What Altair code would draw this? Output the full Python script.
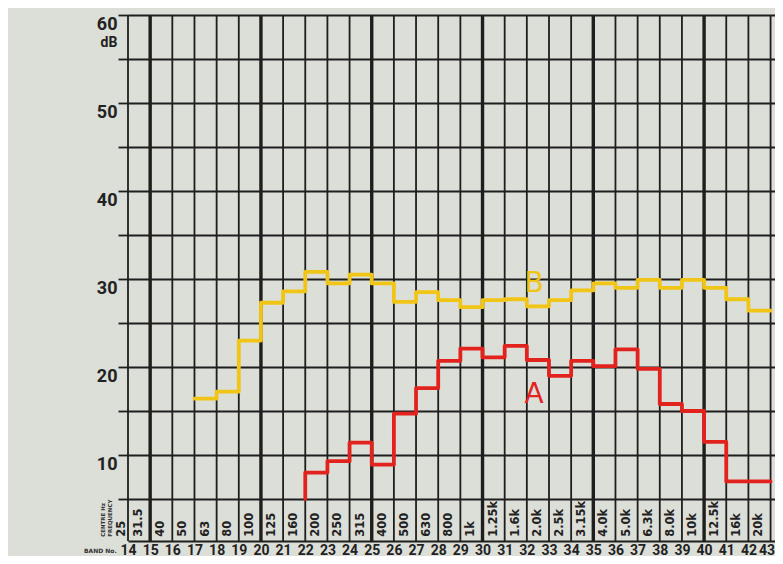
import altair as alt
import pandas as pd

# ---- data ----
bands_A = list(range(23, 44))
level_A = [8.0, 9.3, 11.4, 8.9, 14.7, 17.6, 20.7, 22.1, 21.1, 22.4, 20.8,
           19.0, 20.7, 20.1, 22.0, 19.8, 15.8, 15.0, 11.5, 7.0, 7.0]

bands_B = list(range(18, 44))
level_B = [16.4, 17.2, 23.0, 27.3, 28.6, 30.8, 29.5, 30.5, 29.5, 27.4, 28.5,
           27.6, 26.8, 27.6, 27.7, 26.9, 27.6, 28.7, 29.5, 29.0, 29.9, 29.0,
           29.9, 29.0, 27.7, 26.4]

band_numbers = list(range(14, 44))
centre_freqs = ["25", "31.5", "40", "50", "63", "80", "100", "125", "160", "200",
                "250", "315", "400", "500", "630", "800", "1k", "1.25k", "1.6k",
                "2.0k", "2.5k", "3.15k", "4.0k", "5.0k", "6.3k", "8.0k", "10k",
                "12.5k", "16k", "20k"]
db_ticks = list(range(5, 61, 5))

FLOOR = 5
GRID = "#1e1e1e"
RED = "#e2231d"
YELLOW = "#f1c515"
BG = "#dcded8"
LABEL_FONT = "Roboto"


def step_rows(name, bands, levels, floor=None):
    rows = []
    if floor is not None:
        rows.append({"series": name, "x": bands[0] - 1, "y": floor})
    for b, v in zip(bands, levels):
        rows.append({"series": name, "x": b - 1, "y": v})
    rows.append({"series": name, "x": bands[-1], "y": levels[-1]})
    for i, r in enumerate(rows):
        r["o"] = i
    return rows


lines_df = pd.DataFrame(step_rows("A", bands_A, level_A, FLOOR) +
                        step_rows("B", bands_B, level_B))
grid_df = pd.DataFrame({"band": band_numbers})
freq_df = pd.DataFrame({"band": band_numbers, "label": centre_freqs})

xs = alt.Scale(domain=[14, 43.2], nice=False, zero=False)
ys = alt.Scale(domain=[0.23, 60], nice=False, zero=False)

x_axis = alt.Axis(values=band_numbers, title=None, grid=False, ticks=False,
                  domain=True, domainColor=GRID, domainWidth=1.8,
                  labelFont=LABEL_FONT, labelFontSize=14, labelFontWeight="bold",
                  labelColor="#222222", labelPadding=2, labelOverlap=False,
                  labelFlush=False, format="d",
                  labelOffset={"condition": {"test": "datum.value === 43", "value": -4},
                               "value": 0})
y_axis = alt.Axis(values=db_ticks, title=None, grid=True, gridColor=GRID,
                  gridWidth=1.8, gridOpacity=1, ticks=True, tickSize=10,
                  tickColor=GRID, tickWidth=1.8, domain=False,
                  labelExpr="datum.value % 10 === 0 ? datum.label : ''",
                  labelBaseline="top", labelAlign="right", labelPadding=1,
                  labelFont=LABEL_FONT, labelFontSize=18,
                  labelFontWeight="bold", labelColor="#222222",
                  labelOverlap=False, labelFlush=False, format="d")


def X(field):
    return alt.X(field, scale=xs, axis=x_axis, title=None)


def Y(field):
    return alt.Y(field, scale=ys, axis=y_axis, title=None)


color_enc = alt.Color("series:N", scale=alt.Scale(domain=["A", "B"], range=[RED, YELLOW]),
                      legend=None)

vthin = alt.Chart(grid_df).transform_filter("datum.band % 5 !== 0").mark_rule(
    color=GRID, strokeWidth=1.8).encode(x=X("band:Q"))
vbold = alt.Chart(grid_df).transform_filter("datum.band % 5 === 0").mark_rule(
    color=GRID, strokeWidth=3.4).encode(x=X("band:Q"))

freq_text = alt.Chart(freq_df).transform_calculate(
    xp="datum.band - 0.5 + (datum.band === 14 ? 0.22 : 0)",
    yp="0.7").mark_text(
    angle=270, align="left", baseline="middle", font="DejaVu Sans",
    fontWeight="bold", fontSize=11.5, color="#222222").encode(
    x=X("xp:Q"), y=Y("yp:Q"), text="label:N")

lines = alt.Chart(lines_df).mark_line(
    interpolate="step-after", strokeWidth=3.8, strokeJoin="round",
    strokeCap="round").encode(
    x=X("x:Q"), y=Y("y:Q"), order="o:Q", color=color_enc)

ann_df = pd.DataFrame({"t": ["A", "B"], "x": [32.33, 32.33], "y": [16.8, 29.4],
                       "series": ["A", "B"]})
letters = alt.Chart(ann_df).mark_text(
    font="DejaVu Sans", fontSize=28, align="center", baseline="middle").encode(
    x=X("x:Q"), y=Y("y:Q"), text="t:N", color=color_enc)

db_df = pd.DataFrame({"t": ["dB"], "x": [13.52], "y": [57.6]})
db_text = alt.Chart(db_df).mark_text(
    font=LABEL_FONT, fontSize=14, fontWeight="bold",
    align="right", baseline="top", color="#222222").encode(
    x=X("x:Q"), y=Y("y:Q"), text="t:N")

small_df = pd.DataFrame({"t": ["CENTRE Hz\nFREQUENCY", "BAND No."],
                         "x": [12.85, 12.75], "y": [0.7, -0.85],
                         "ang": [270, 0]})
small_rot = alt.Chart(small_df).transform_filter("datum.ang === 270").mark_text(
    font="DejaVu Sans", fontSize=5.5, fontWeight="bold", angle=270,
    align="left", baseline="middle", lineBreak="\n", color="#333333").encode(
    x=X("x:Q"), y=Y("y:Q"), text="t:N")
small_flat = alt.Chart(small_df).transform_filter("datum.ang === 0").mark_text(
    font="DejaVu Sans", fontSize=6, fontWeight="bold",
    align="center", baseline="middle", color="#333333").encode(
    x=X("x:Q"), y=Y("y:Q"), text="t:N")

chart = alt.layer(vthin, vbold, freq_text, lines, letters, db_text,
                  small_rot, small_flat).properties(
    width=647, height=526,
    autosize=alt.AutoSizeParams(type="none"),
    padding={"left": 120, "top": 7, "right": 0, "bottom": 15},
    background=BG,
).configure_view(stroke=None)

chart.save("out.html", embed_options={"renderer": "svg", "actions": False})
